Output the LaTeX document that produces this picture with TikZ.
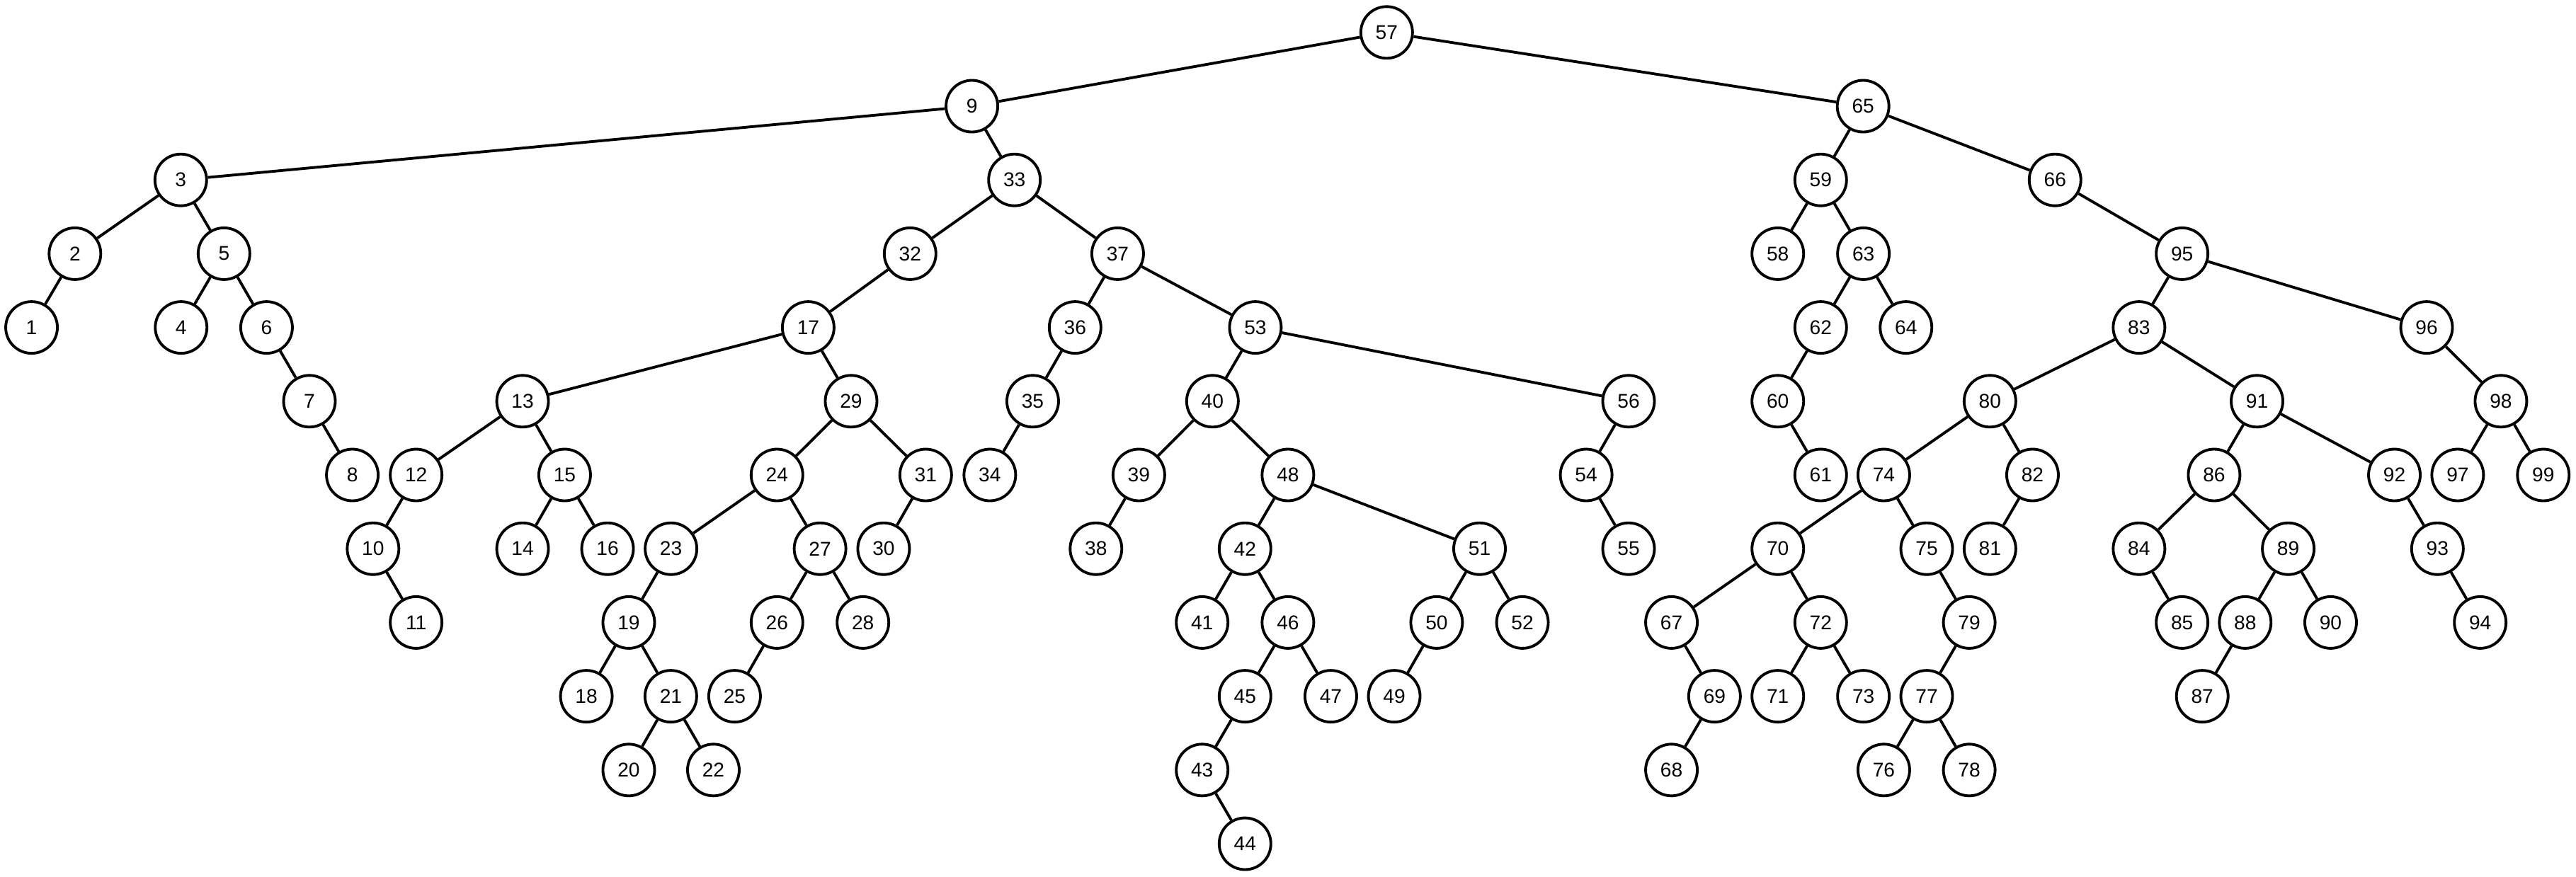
\documentclass[tikz,border=0pt]{standalone}
\usepackage{fontspec}
\setmainfont{Liberation Sans}
\usepackage{tikz}
\tikzstyle{vertex} = [circle,draw,line width=1.1pt,minimum size=0.73cm,inner sep=0pt,font=\fontsize{8}{9.6}\selectfont]
\tikzstyle{edge} = [line width=1.1pt]

\begin{document}
\begin{tikzpicture}
        \useasboundingbox (0,0) rectangle (36.38,-12.38);
        % x in screen units, level gives the row
        \foreach \n/\x/\l in {57/843.8/0,
            9/591.4/1, 65/1133.7/1,
            3/110/2, 33/617.3/2, 59/1107.9/2, 66/1250.5/2,
            2/45.6/3, 5/136.3/3, 32/553.8/3, 37/680.1/3, 58/1081.8/3, 63/1133.9/3, 95/1327.8/3,
            1/19.2/4, 4/110.2/4, 6/162.2/4, 17/491.8/4, 36/654.2/4, 53/763.9/4, 62/1107.9/4, 64/1159.8/4, 83/1301.6/4, 96/1476.6/4,
            7/188.3/5, 13/318/5, 29/517.9/5, 35/628.4/5, 40/737.8/5, 56/991/5, 60/1081.8/5, 80/1210.9/5, 91/1373.4/5, 98/1521.8/5,
            8/214.4/6, 12/253.2/6, 15/343.6/6, 24/472.8/6, 31/563.3/6, 34/602.3/6, 39/693/6, 48/783.7/6, 54/965.2/6, 61/1107.9/6,
            74/1146.3/6, 82/1236.8/6, 86/1347.3/6, 92/1457/6, 97/1495.5/6, 99/1547.6/6,
            10/227/7, 14/318/7, 16/369.7/7, 23/408.3/7, 27/499/7, 30/537.7/7, 38/666.9/7, 42/757.6/7, 51/900.3/7, 55/991/7,
            70/1081.8/7, 75/1172.4/7, 81/1210.9/7, 84/1301.6/7, 89/1392.4/7, 93/1483.2/7,
            11/253.2/8, 19/382.6/8, 26/472.8/8, 28/525.1/8, 41/731.5/8, 46/783.7/8, 50/874.2/8, 52/926.4/8, 67/1017.1/8,
            72/1107.9/8, 79/1198.3/8, 85/1327.8/8, 88/1366.2/8, 90/1418.2/8, 94/1509.2/8,
            18/356.8/9, 21/408.2/9, 25/447/9, 45/757.6/9, 47/809.8/9, 49/848.4/9, 69/1043.3/9, 71/1081.8/9, 73/1133.9/9,
            77/1172.4/9, 87/1340.1/9,
            20/382.6/10, 22/434.1/10, 43/731.5/10, 68/1017.1/10, 76/1146.3/10, 78/1198.3/10,
            44/757.6/11}
            \node[vertex] (n\n) at ({\x*0.023202},{-0.458-1.042*\l}) {\n};
        \foreach \a/\b in {57/9, 57/65, 9/3, 9/33, 3/2, 3/5, 2/1, 5/4, 5/6, 6/7, 7/8,
            33/32, 33/37, 32/17, 17/13, 17/29, 13/12, 13/15, 12/10, 10/11, 15/14, 15/16,
            29/24, 29/31, 24/23, 24/27, 23/19, 19/18, 19/21, 21/20, 21/22, 27/26, 27/28,
            26/25, 31/30, 37/36, 37/53, 36/35, 35/34, 53/40, 53/56, 40/39, 40/48, 39/38,
            48/42, 48/51, 42/41, 42/46, 46/45, 46/47, 45/43, 43/44, 51/50, 51/52, 50/49,
            56/54, 54/55, 65/59, 65/66, 59/58, 59/63, 63/62, 63/64, 62/60, 60/61, 66/95,
            95/83, 95/96, 83/80, 83/91, 80/74, 80/82, 74/70, 74/75, 70/67, 70/72, 67/69,
            69/68, 72/71, 72/73, 75/79, 79/77, 77/76, 77/78, 82/81, 91/86, 91/92, 86/84,
            86/89, 84/85, 89/88, 89/90, 88/87, 92/93, 93/94, 96/98, 98/97, 98/99}
            \draw[edge] (n\a) -- (n\b);
    \end{tikzpicture}
\end{document}
